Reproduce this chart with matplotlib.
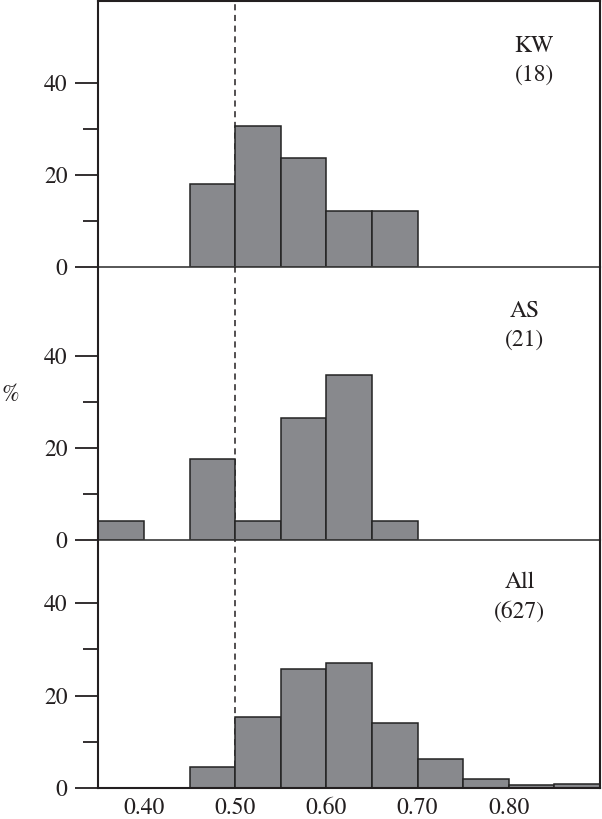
import matplotlib
matplotlib.use("Agg")
import matplotlib.pyplot as plt
import numpy as np

plt.rcParams["font.family"] = ["STIXGeneral", "DejaVu Serif"]
plt.rcParams["mathtext.fontset"] = "stix"
plt.rcParams["font.size"] = 17

# histogram data (percent per 0.05 bin)
bin_width = 0.05
kw_left = [0.45, 0.50, 0.55, 0.60, 0.65]
kw_pct = [18.1, 30.6, 23.7, 12.3, 12.3]
as_left = [0.35, 0.45, 0.50, 0.55, 0.60, 0.65]
as_pct = [4.2, 17.6, 4.2, 26.5, 35.8, 4.2]
all_left = [0.45, 0.50, 0.55, 0.60, 0.65, 0.70, 0.75, 0.80, 0.85]
all_pct = [4.5, 15.4, 25.7, 27.0, 14.1, 6.2, 1.95, 0.6, 0.8]

groups = ["KW", "AS", "All"]
counts = [18, 21, 627]
lefts = [kw_left, as_left, all_left]
pcts = [kw_pct, as_pct, all_pct]
xticks = [0.40, 0.50, 0.60, 0.70, 0.80]

W, H = 602, 819
fig = plt.figure(figsize=(W / 100, H / 100), dpi=100)

# panel pixel extents (top, bottom) and label positions (x, y in data)
panels = [(1.0, 267.3), (267.3, 540.3), (540.3, 787.7)]
px_per_unit = 4.61
label_pos = [(0.828, 44.9), (0.817, 46.5), (0.812, 41.3)]

bar_col = "#88898d"
edge_col = "#232323"
ink = "#231f20"

axes = []
for i, (top, bot) in enumerate(panels):
    ax = fig.add_axes([98.3 / W, 1 - bot / H, (600 - 98.3) / W, (bot - top) / H])
    ax.patch.set_visible(False)
    ax.bar(lefts[i], pcts[i], width=bin_width, align="edge",
           color=bar_col, edgecolor=edge_col, linewidth=1.1, zorder=2)
    ax.axvline(0.5, color=ink, lw=1.1, ls=(0, (4, 3)), zorder=1)
    ax.set_xlim(0.35, 0.90)
    ax.set_ylim(0, (bot - top) / px_per_unit)
    ax.set_yticks([0, 20, 40])
    ax.set_yticks([10, 30], minor=True)
    ax.tick_params(axis="y", which="major", length=16.5, width=1.3,
                   color=ink, pad=5.5, labelcolor=ink)
    ax.tick_params(axis="y", which="minor", length=11, width=1.3, color=ink)
    ax.set_xticks(xticks)
    ax.tick_params(axis="x", length=0, pad=7, labelcolor=ink)
    if i < 2:
        ax.set_xticklabels([])
    else:
        ax.set_xticklabels([f"{v:.2f}" for v in xticks])
    for s in ax.spines.values():
        s.set_color(ink)
        s.set_linewidth(1.5)
    if i > 0:
        ax.spines["top"].set_visible(False)
    if i < 2:
        ax.spines["bottom"].set_color("#3a3a3a")
        ax.spines["bottom"].set_linewidth(1.2)
    lx, ly = label_pos[i]
    ax.text(lx, ly, f"{groups[i]}\n({counts[i]})", ha="center", va="center",
            color=ink, linespacing=1.45)
    axes.append(ax)

fig.text(10 / W, 1 - 395 / H, "%", ha="center", va="center", color=ink)

fig.savefig("out.png", dpi=100)
